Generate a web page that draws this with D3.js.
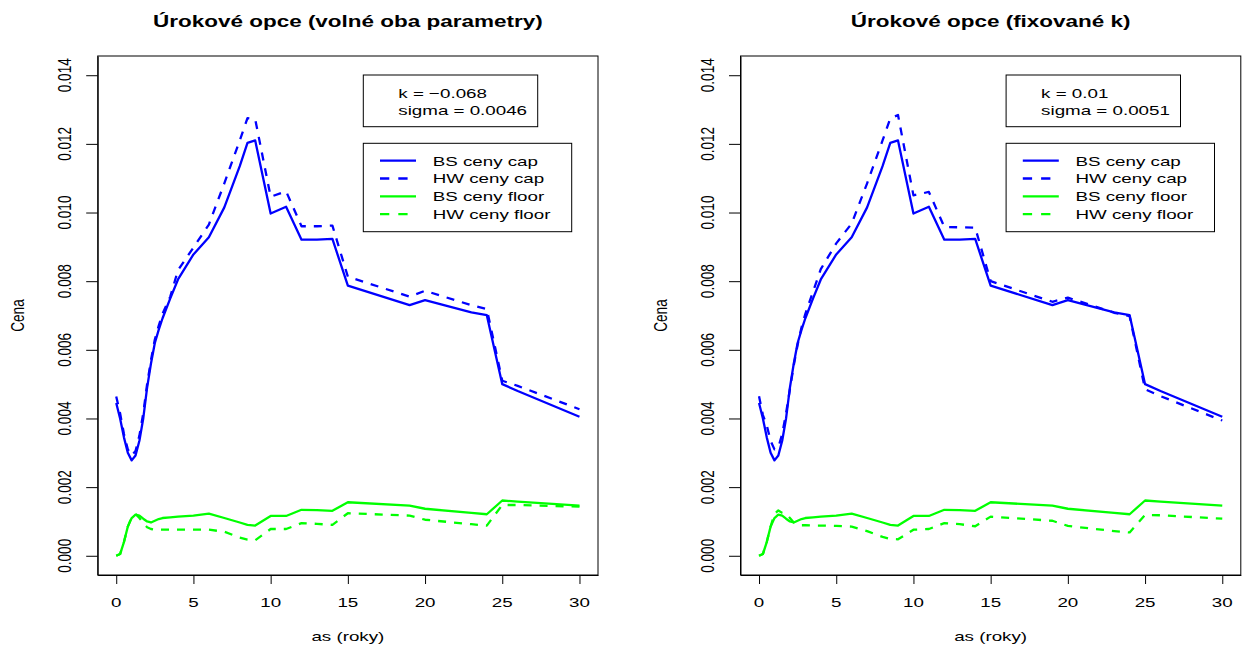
<!DOCTYPE html>
<html>
<head>
<meta charset="utf-8">
<script src="https://cdn.jsdelivr.net/npm/d3@7"></script>
<style>
html,body{margin:0;padding:0;background:#fff;}
svg{display:block;}
text{font-family:"Liberation Sans",Arial,Helvetica,sans-serif;fill:#000;}
</style>
</head>
<body>
<svg id="chart" width="1247" height="648"></svg>
<script>
// ---- data ----
const years = [0,0.25,0.5,0.75,1,1.25,1.5,1.75,2,2.25,2.5,2.75,3,3.5,4,5,6,7,8,8.5,9,10,11,12,13,14,15,19,20,23,24,25,26,30];

const bsCap = [0.00445,0.0040,0.00345,0.0030,0.00278,0.00292,0.00335,0.0040,0.0049,0.0056,0.0062,0.00658,0.00692,0.0075,0.00805,0.00878,0.00928,0.01015,0.01135,0.01203,0.0121,0.00997,0.01017,0.00921,0.00921,0.00923,0.00787,0.0073,0.00745,0.00709,0.00701,0.0050,0.0048,0.00405];
const bsFloor = [0,0.00005,0.0004,0.00085,0.0011,0.0012,0.00117,0.00108,0.0010,0.00097,0.00102,0.00107,0.0011,0.00112,0.00114,0.00117,0.00123,0.0011,0.00097,0.0009,0.00088,0.00116,0.00116,0.00134,0.00133,0.00131,0.00156,0.00146,0.00137,0.00125,0.00121,0.00161,0.00158,0.00146];

const hwCapFree = [0.00464,0.00415,0.00355,0.0031,0.00292,0.00305,0.0035,0.00415,0.0050,0.0057,0.0063,0.0067,0.00705,0.00755,0.00832,0.00898,0.00965,0.01085,0.0121,0.01275,0.01272,0.01046,0.01062,0.0096,0.0096,0.00962,0.00813,0.00755,0.00772,0.0073,0.00719,0.0051,0.00495,0.00427];
const hwFloorFree = [0,0.00005,0.0004,0.00085,0.00112,0.00122,0.0011,0.00095,0.00083,0.00078,0.00076,0.00076,0.00076,0.00076,0.00076,0.00076,0.00076,0.0007,0.00053,0.00047,0.00045,0.00078,0.00078,0.00095,0.00093,0.0009,0.00124,0.00117,0.00105,0.00092,0.00088,0.00148,0.00148,0.00143];

const hwCapFixed = [0.00465,0.0041,0.0038,0.00335,0.0031,0.00315,0.00355,0.00415,0.00485,0.00555,0.00615,0.00665,0.00705,0.0077,0.00835,0.0091,0.00968,0.01085,0.0121,0.01274,0.01284,0.0105,0.0106,0.00958,0.00957,0.00956,0.0080,0.0074,0.00752,0.00708,0.00698,0.00485,0.00465,0.00394];
const hwFloorFixed = [0,0.00005,0.0004,0.00085,0.00122,0.00132,0.00125,0.00122,0.0011,0.00097,0.00091,0.00089,0.00089,0.00088,0.00088,0.00087,0.00085,0.00072,0.00055,0.00049,0.00048,0.00076,0.00078,0.00095,0.00092,0.00086,0.00114,0.00102,0.00087,0.00072,0.00068,0.00119,0.00118,0.00108];

const xTicks = [0,5,10,15,20,25,30];
const yTicks = [0,0.002,0.004,0.006,0.008,0.010,0.012,0.014];
const yTickLabels = ["0.000","0.002","0.004","0.006","0.008","0.010","0.012","0.014"];

const legendLabels = ["BS ceny cap","HW ceny cap","BS ceny floor","HW ceny floor"];

const panels = [
  {title:"Úrokové opce (volné oba parametry)", params:["k = −0.068","sigma = 0.0046"], hwCap:hwCapFree, hwFloor:hwFloorFree},
  {title:"Úrokové opce (fixované k)", params:["k = 0.01","sigma = 0.0051"], hwCap:hwCapFixed, hwFloor:hwFloorFixed}
];
const xLabel = "as (roky)";
const yLabel = "Cena";

// ---- layout ----
const SX = 1.38;          // horizontal stretch of the original raster
const FS = 13.6, FST = 16.3;
const plotLefts = [97.7, 740.5];
const plotW = 500.3, plotTop = 56, plotBottom = 575;
const BLUE = "#0000ff", GREEN = "#00ff00";
const DASH = "8,8";

const svg = d3.select("#chart");

function stretchedText(g, x, y, str, size, opts={}) {
  const t = g.append("text")
    .attr("transform", `translate(${x},${y}) scale(${SX},1)` + (opts.rotate ? " rotate(-90)" : ""))
    .attr("text-anchor", opts.anchor || "middle")
    .style("font-size", size + "px")
    .text(str);
  if (opts.bold) t.style("font-weight", "bold");
  return t;
}

panels.forEach((p, i) => {
  const L = plotLefts[i];
  const g = svg.append("g");
  const x = d3.scaleLinear().domain([-1.2, 31.2]).range([L, L + plotW]);
  const y = d3.scaleLinear().domain([-0.00056, 0.01456]).range([plotBottom, plotTop]);

  // axes (tick marks)
  const ax = g.append("g").attr("transform", `translate(0,${plotBottom})`)
    .call(d3.axisBottom(x).tickValues(xTicks).tickSize(9).tickSizeOuter(0).tickFormat(""));
  const ay = g.append("g").attr("transform", `translate(${L},0)`)
    .call(d3.axisLeft(y).tickValues(yTicks).tickSize(11.5).tickSizeOuter(0).tickFormat(""));
  g.selectAll(".domain").attr("stroke", "#000");
  g.selectAll(".tick line").attr("stroke", "#000");

  xTicks.forEach(v => stretchedText(g, x(v), 607, String(v), FS));
  yTicks.forEach((v, k) => stretchedText(g, L - 26.7, y(v), yTickLabels[k], FS, {rotate:true}));

  // box
  g.append("rect").attr("x", L).attr("y", plotTop).attr("width", plotW).attr("height", plotBottom - plotTop)
    .attr("fill", "none").attr("stroke", "#000").attr("stroke-width", 1);

  // titles
  stretchedText(g, L + plotW / 2, 26.7, p.title, FST, {bold:true});
  stretchedText(g, L + plotW / 2, 641, xLabel, FS);
  stretchedText(g, L - 73.5, (plotTop + plotBottom) / 2, yLabel, FS, {rotate:true});

  // lines
  const line = d3.line().x((d, k) => x(years[k])).y(d => y(d));
  const series = [
    {v:bsCap, c:BLUE, dash:null},
    {v:p.hwCap, c:BLUE, dash:DASH},
    {v:bsFloor, c:GREEN, dash:null},
    {v:p.hwFloor, c:GREEN, dash:DASH}
  ];
  const clip = "clip" + i;
  g.append("clipPath").attr("id", clip).append("rect")
    .attr("x", L).attr("y", plotTop).attr("width", plotW).attr("height", plotBottom - plotTop);
  const lg = g.append("g").attr("clip-path", `url(#${clip})`);
  series.forEach(s => {
    lg.append("path").datum(s.v).attr("d", line)
      .attr("fill", "none").attr("stroke", s.c).attr("stroke-width", 2.3)
      .attr("stroke-linejoin", "round")
      .attr("stroke-dasharray", s.dash);
  });

  // parameter box
  const bx = L + 265.6;
  g.append("rect").attr("x", bx).attr("y", 75).attr("width", 174.4).attr("height", 51.7)
    .attr("fill", "#fff").attr("stroke", "#000").attr("stroke-width", 1);
  stretchedText(g, bx + 35, 97.7, p.params[0], FS, {anchor:"start"});
  stretchedText(g, bx + 35, 114.7, p.params[1], FS, {anchor:"start"});

  // legend
  g.append("rect").attr("x", bx).attr("y", 143.3).attr("width", 208.4).attr("height", 88.4)
    .attr("fill", "#fff").attr("stroke", "#000").attr("stroke-width", 1);
  legendLabels.forEach((lab, k) => {
    const cy = 160.7 + k * 17.8;
    const s = series[k];
    g.append("line").attr("x1", bx + 16.7).attr("x2", bx + 52.7).attr("y1", cy).attr("y2", cy)
      .attr("stroke", s.c).attr("stroke-width", 2.3)
      .attr("stroke-dasharray", s.dash ? "9.3,9" : null);
    stretchedText(g, bx + 69.4, cy + 4.8, lab, FS, {anchor:"start"});
  });
});
</script>
</body>
</html>
